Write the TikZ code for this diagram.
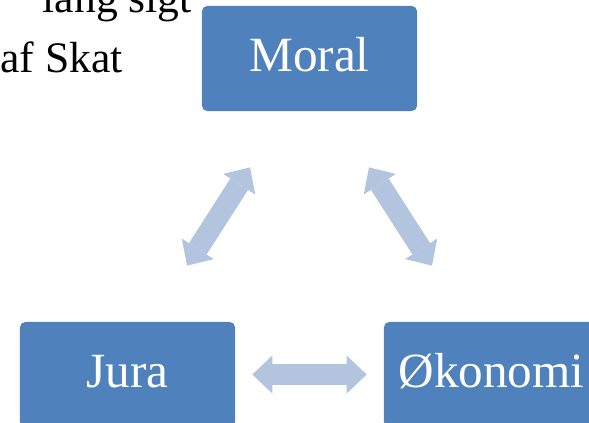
\documentclass[tikz,border=0pt]{standalone}
\usepackage{fontspec}
\setmainfont{Liberation Serif}
\usetikzlibrary{arrows.meta,calc}
\definecolor{boxblue}{RGB}{79,129,189}
\definecolor{arrowblue}{RGB}{179,196,222}

\begin{document}
\begin{tikzpicture}[x=0.025cm, y=-0.025cm,
		box/.style={fill=boxblue, rounded corners=0.13cm, inner sep=0pt,
			minimum width=5.375cm, minimum height=2.625cm,
			text height=0.919cm, text depth=0.245cm,
			text=white, font=\fontsize{35}{42}\selectfont},
		head/.tip={Triangle[length=0.5cm, width=0.95cm, line width=0pt]},
		dblarrow/.style={draw=arrowblue, line width=0.525cm, head-head}]
		\useasboundingbox (0,0) rectangle (589,422);
		\node[anchor=base east, inner sep=0pt, font=\fontsize{31}{37}\selectfont] (sigt) at (192,12) {lang sigt};
		\node[anchor=base west, inner sep=0pt, font=\fontsize{31}{37}\selectfont] (skat) at (0,72) {af Skat};
		\node[box] (moral) at (309.5,58.5) {Moral};
		\node[box] (jura) at (127.5,374.5) {Jura};
		\node[box] (okonomi) at (491.5,374.5) {Økonomi};
		\draw[dblarrow, shorten <=1.665cm, shorten >=1.665cm]
			($(moral.south west)!0.391!(moral.south east)$) -- ($(jura.north west)!0.609!(jura.north east)$);
		\draw[dblarrow, shorten <=1.665cm, shorten >=1.665cm]
			($(moral.south west)!0.609!(moral.south east)$) -- ($(okonomi.north west)!0.391!(okonomi.north east)$);
		\draw[dblarrow, shorten <=0.425cm, shorten >=0.425cm] (jura.east) -- (okonomi.west);
	\end{tikzpicture}
\end{document}
